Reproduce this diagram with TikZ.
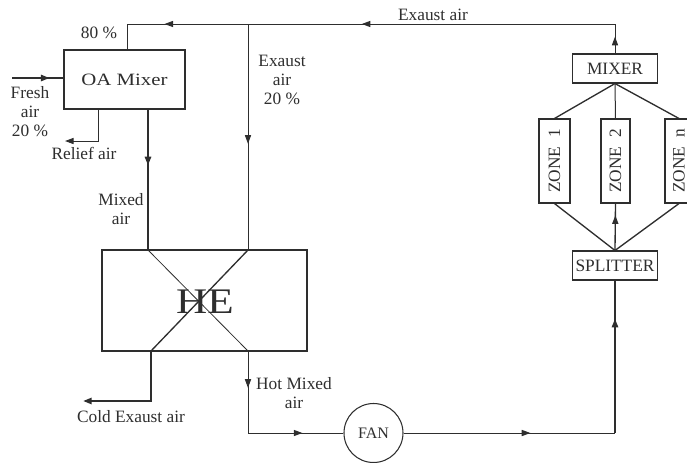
\documentclass[tikz,border=0pt]{standalone}
\usepackage{fontspec}
\setmainfont{Liberation Serif}
\usepackage{graphicx}
\usetikzlibrary{positioning,arrows.meta,decorations.markings}
\definecolor{ink}{HTML}{2E2E2E}
\newcommand{\px}{0.75pt}

\begin{document}
\begin{tikzpicture}[x=0.75pt,y=-0.75pt,color=ink,
  every node/.style={font=\fontsize{13}{14.3}\selectfont},
  unit/.style={draw=ink,line width=0.8pt,inner sep=0pt},
  zonebox/.style={unit,minimum width=31*\px,minimum height=84*\px},
  pipe/.style={draw=ink,line width=0.75pt},
  duct/.style={draw=ink,line width=1.6pt},
  tip/.style={-{Triangle[length=6.5pt,width=4.6pt]}},
  arrowat/.style={postaction={decorate},decoration={markings,mark=at position #1 with {\arrow{Triangle[length=6.5pt,width=4.6pt]}}}},
  lbl/.style={align=center,inner sep=0pt}]
\useasboundingbox (0,0) rectangle (687,462);
% units
\node[unit,minimum width=121*\px,minimum height=59*\px] (oamix) at (124.5,79.5) {\scalebox{1.2}[1]{OA Mixer}};
\node[unit,minimum width=205*\px,minimum height=101*\px] (he) at (204.5,300.5) {};
\node[unit,circle,minimum size=59*\px,font=\fontsize{12}{12}\selectfont] (fan) at (373.5,433) {FAN};
\node[unit,minimum width=85*\px,minimum height=29*\px] (splitter) at (615,265.5) {SPLITTER};
\node[unit,minimum width=85*\px,minimum height=29*\px] (mixer) at (615,68.5) {MIXER};
\node[zonebox] (zone1) at (554.5,161) {\rotatebox{90}{ZONE\enspace 1}};
\node[zonebox,minimum width=29*\px] (zone2) at (615.5,161) {\rotatebox{90}{ZONE\enspace 2}};
\node[zonebox,minimum width=28*\px] (zonen) at (679,161) {\rotatebox{90}{ZONE\enspace n}};
% duct corners
\coordinate (ctopR) at (615,24);
\coordinate (cbranch) at (248,24);
\coordinate (ctopL) at (127,24);
\coordinate (cfresh) at (12,78);
\coordinate (crelief) at (98,109);
\coordinate (creliefend) at (65,141);
\coordinate (cmixout) at (148,109);
\coordinate (mixin) at (148,250);
\coordinate (exin) at (248,250);
\coordinate (coldout) at (151,351);
\coordinate (hotout) at (248,351);
\coordinate (ccoldend) at (83,401);
\coordinate (chot) at (248,433);
\coordinate (csupply) at (615,433);
% return air
\draw[pipe,arrowat=0.57] (mixer.north) -- (ctopR);
\draw[pipe,arrowat=0.69] (ctopR) -- (cbranch);
\draw[pipe,arrowat=0.69] (cbranch) -- (ctopL);
\draw[pipe] (ctopL) -- (ctopL |- oamix.north);
\draw[pipe,arrowat=0.53] (cbranch) -- (exin);
% outside air side
\draw[duct,arrowat=0.73] (cfresh) -- (cfresh -| oamix.west);
\draw[pipe,tip] (crelief) |- (creliefend);
\draw[duct,arrowat=0.4] (cmixout) -- (mixin);
% heat exchanger
\draw[pipe,line width=0.6pt] (mixin) -- (hotout);
\draw[pipe,line width=1pt] (exin) -- (coldout);
\node[font=\fontsize{27}{27}\selectfont] (helbl) at (205,302) {\scalebox{1.2}[1]{HE}};
\draw[duct,tip] (coldout) |- (ccoldend);
\draw[pipe,arrowat=0.45] (hotout) -- (chot);
\draw[pipe,arrowat=0.57] (chot) -- (fan.west);
% supply
\draw[pipe,arrowat=0.6] (fan.east) -- (csupply);
\draw[duct,arrowat=0.75] (csupply) -- (splitter.south);
\foreach \z in {zone1,zonen} {
  \draw[pipe,line width=1pt] (splitter.north) -- (\z.south);
  \draw[pipe,line width=1pt] (\z.north) -- (mixer.south);
}
\draw[pipe,line width=1pt,arrowat=0.75] (splitter.north) -- (zone2.south);
\draw[pipe] (zone2.north) -- (mixer.south);
% labels
\node[lbl] (l80) at (99,33) {80 \%};
\node[lbl] (lfresh) at (30,112) {Fresh\\air\\20 \%};
\node[lbl] (lrelief) at (84,153) {Relief air};
\node[lbl] (lexbranch) at (282,80) {Exaust\\air\\20 \%};
\node[lbl] (lexreturn) at (433,15) {Exaust air};
\node[lbl] (lmixed) at (121,209.5) {Mixed\\air};
\node[lbl] (lcold) at (131,417) {Cold Exaust air};
\node[lbl] (lhot) at (294,393.5) {Hot Mixed\\air};
\end{tikzpicture}
\end{document}
